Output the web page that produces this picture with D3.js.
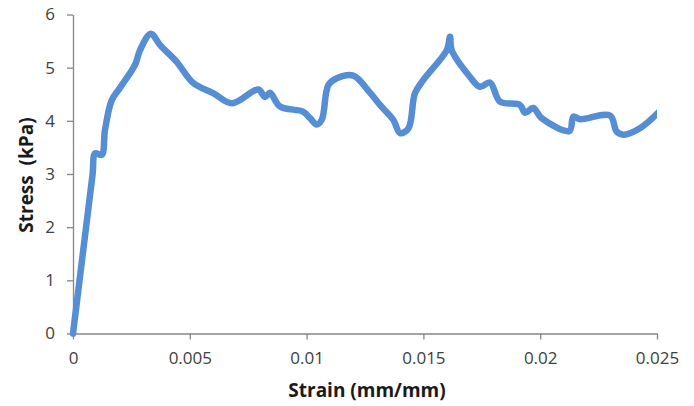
<!DOCTYPE html>
<html>
<head>
<meta charset="utf-8">
<script src="https://cdn.jsdelivr.net/npm/d3@7"></script>
<style>
  body { margin: 0; background: #fff; }
  .axis path, .axis line { stroke: #868686; stroke-width: 1.3; }
  .axis text { font-family: "Open Sans", sans-serif; font-size: 17px; fill: #404040; }
  .title { font-family: "Open Sans", sans-serif; font-size: 19px; font-weight: bold; fill: #1a1a1a; white-space: pre; }
</style>
</head>
<body>
<div class="graph"></div>
<script>
const strain = [0, 0.00028, 0.00056, 0.00084, 0.00095, 0.00123, 0.00137, 0.00166, 0.00201, 0.00265,
  0.00287, 0.00333, 0.00372, 0.00444, 0.00515, 0.0060, 0.00681, 0.00793, 0.00822, 0.00843,
  0.00886, 0.00986, 0.01015, 0.01043, 0.01065, 0.01093, 0.01129, 0.0120, 0.01271, 0.01314,
  0.01371, 0.01400, 0.01436, 0.01464, 0.0150, 0.0160, 0.01614, 0.01621, 0.01699, 0.01742,
  0.01785, 0.01828, 0.01913, 0.01935, 0.0197, 0.02006, 0.02125, 0.02142, 0.0217, 0.02299,
  0.02327, 0.02356, 0.02427, 0.0252];
const stress = [0, 1.0, 2.0, 3.0, 3.39, 3.36, 3.83, 4.39, 4.62, 5.05,
  5.33, 5.64, 5.43, 5.11, 4.71, 4.52, 4.33, 4.59, 4.45, 4.53,
  4.27, 4.17, 4.05, 3.93, 4.02, 4.67, 4.80, 4.85, 4.53, 4.30,
  4.02, 3.77, 3.86, 4.52, 4.77, 5.33, 5.58, 5.33, 4.83, 4.64,
  4.72, 4.36, 4.30, 4.15, 4.24, 4.05, 3.81, 4.08, 4.03, 4.10,
  3.80, 3.74, 3.86, 4.22];
const xTicks = [0, 0.005, 0.01, 0.015, 0.02, 0.025];
const yTicks = [0, 1, 2, 3, 4, 5, 6];

function displayGraph() {
  const w = 694;
  const h = 406;
  const padding = { top: 14.5, right: 37, bottom: 72.5, left: 73 };

  const xScale = d3.scaleLinear()
    .domain([0, 0.025])
    .range([padding.left, w - padding.right]);
  const yScale = d3.scaleLinear()
    .domain([0, 6])
    .range([h - padding.bottom, padding.top]);

  const svg = d3.select('.graph')
    .append('svg')
    .attr('width', w)
    .attr('height', h);

  svg.append('defs').append('clipPath')
    .attr('id', 'plot-clip')
    .append('rect')
    .attr('x', padding.left - 10)
    .attr('y', 0)
    .attr('width', w - padding.right - padding.left + 10)
    .attr('height', h - padding.bottom + 5);

  svg.append('g')
    .attr('class', 'axis x-axis')
    .attr('transform', `translate(0, ${h - padding.bottom})`)
    .call(d3.axisBottom(xScale)
      .tickValues(xTicks)
      .tickSizeInner(6)
      .tickSizeOuter(0)
      .tickPadding(12.5)
      .tickFormat((d) => d));

  svg.append('g')
    .attr('class', 'axis y-axis')
    .attr('transform', `translate(${padding.left}, 0)`)
    .call(d3.axisLeft(yScale)
      .tickValues(yTicks)
      .tickSizeInner(6)
      .tickSizeOuter(0)
      .tickPadding(12)
      .tickFormat((d) => d));

  const points = strain.map((s, i) => [s, stress[i]]);
  const line = d3.line()
    .x((d) => xScale(d[0]))
    .y((d) => yScale(d[1]))
    .curve(d3.curveCatmullRom.alpha(0.5));

  svg.append('path')
    .datum(points)
    .attr('clip-path', 'url(#plot-clip)')
    .attr('d', line)
    .attr('fill', 'none')
    .attr('stroke', '#558ed5')
    .attr('stroke-width', 6.5)
    .attr('stroke-linejoin', 'round')
    .attr('stroke-linecap', 'round');

  svg.append('text')
    .attr('class', 'title')
    .attr('x', 367)
    .attr('y', 397)
    .attr('text-anchor', 'middle')
    .text('Strain (mm/mm)');

  svg.append('text')
    .attr('class', 'title')
    .attr('transform', 'translate(33, 175) rotate(-90)')
    .attr('text-anchor', 'middle')
    .text('Stress  (kPa)');
}

displayGraph();
</script>
</body>
</html>
